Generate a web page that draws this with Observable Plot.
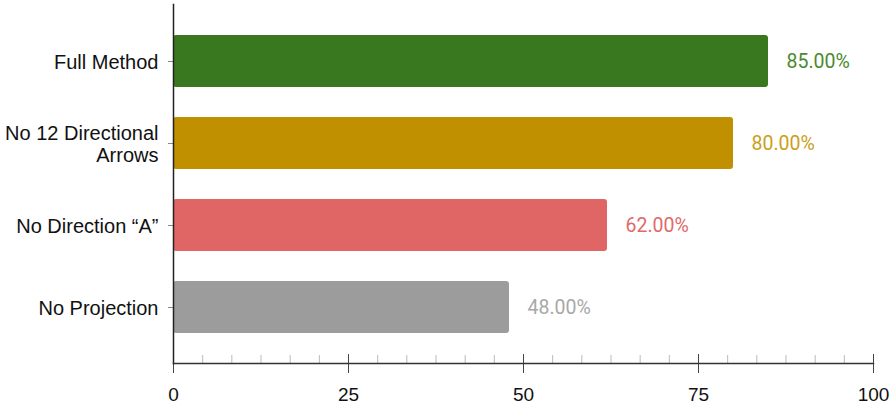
<!DOCTYPE html>
<html>
<head>
<meta charset="utf-8">
<script src="https://cdn.jsdelivr.net/npm/d3@7"></script>
<script src="https://cdn.jsdelivr.net/npm/@observablehq/plot@0.6"></script>
<style>
  body { margin: 0; background: #fff; }
  #chart { width: 896px; height: 417px; }
</style>
</head>
<body>
<div id="chart"></div>
<script>
const categories = ["Full Method", "No 12 Directional Arrows", "No Direction \u201cA\u201d", "No Projection"];
const categoryLabels = ["Full Method", "No 12 Directional\nArrows", "No Direction \u201cA\u201d", "No Projection"];
const values = [85, 80, 62, 48];
const barColors = ["#3a7820", "#c09000", "#e06666", "#9c9c9c"];
const labelColors = ["#4a8a2e", "#c9a020", "#e06a6a", "#a8a8a8"];
const majorTicks = [0, 25, 50, 75, 100];
const minorTicks = d3.range(1, 24).map(i => i * 25 / 6).filter(v => Math.abs(v / 25 - Math.round(v / 25)) > 1e-6);

const data = categories.map((c, i) => ({cat: c, value: values[i], color: barColors[i], labelColor: labelColors[i]}));
const labelOf = new Map(categories.map((c, i) => [c, categoryLabels[i]]));

const chart = Plot.plot({
  width: 896,
  height: 417,
  marginLeft: 173,
  marginRight: 23,
  marginTop: 4,
  marginBottom: 54,
  style: {fontFamily: "'Liberation Sans', Arial, sans-serif", background: "#fff"},
  x: {domain: [0, 100], label: null},
  y: {domain: categories, padding: 0.37, label: null},
  marks: [
    Plot.barX(data, {x: "value", y: "cat", fill: "color", rx: 3}),
    Plot.text(data, {x: "value", y: "cat", text: d => d.value.toFixed(2) + "%", dx: 18, textAnchor: "start",
      fill: "labelColor", fontSize: 19.5, fontFamily: "Roboto, sans-serif"}),
    Plot.axisX({ticks: minorTicks, tickSize: -8, text: null, stroke: "#bbb", label: null}),
    Plot.axisX({ticks: majorTicks, tickSize: -9, text: null, stroke: "#444", label: null}),
    Plot.axisX({ticks: majorTicks, tickSize: 10, tickPadding: 14, fontSize: 19, fill: "#111", stroke: "#444", label: null}),
    Plot.axisY({tickSize: 5, tickPadding: 10, fontSize: 20, fill: "#111", stroke: "#888", label: null,
      tickFormat: d => labelOf.get(d), lineHeight: 1.1}),
    Plot.frame({anchor: "left", stroke: "#222", strokeWidth: 1.5}),
    Plot.frame({anchor: "bottom", stroke: "#333", strokeWidth: 1.5})
  ]
});
document.getElementById("chart").appendChild(chart);
</script>
</body>
</html>
